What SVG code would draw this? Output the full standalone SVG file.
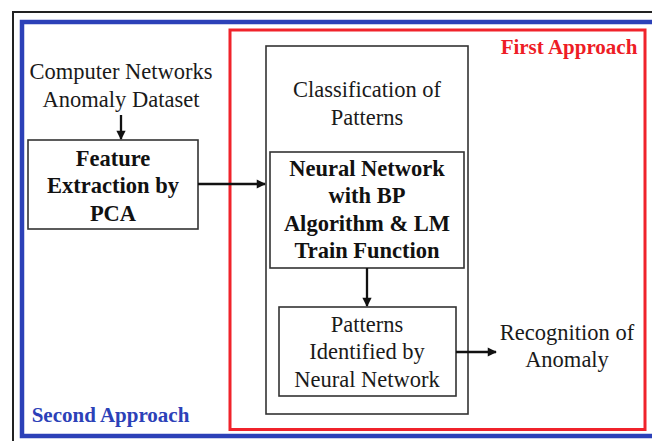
<svg xmlns="http://www.w3.org/2000/svg" width="652" height="441" viewBox="0 0 652 441">
  <style>
    .reg { font-family: "Liberation Serif", "Times New Roman", serif; font-size: 22.5px; fill: #1a1a1a; text-anchor: middle; }
    .bold { font-family: "Liberation Serif", "Times New Roman", serif; font-size: 22.5px; font-weight: bold; fill: #111; text-anchor: middle; }
    .box { fill: #fff; stroke: #333; stroke-width: 1.6; }
    .conn { stroke: #111; stroke-width: 2.3; fill: none; marker-end: url(#head); }
  </style>
  <defs>
    <marker id="head" viewBox="0 0 10 10" refX="9" refY="5" markerWidth="4.4" markerHeight="4" orient="auto" markerUnits="strokeWidth">
      <path d="M0,0 L10,5 L0,10 Z" fill="#111"/>
    </marker>
  </defs>

  <rect width="652" height="441" fill="#fff"/>

  <!-- frames -->
  <rect x="13" y="12" width="660" height="450" fill="none" stroke="#222" stroke-width="2"/>
  <rect id="second-approach" x="22" y="22" width="650" height="414" fill="none" stroke="#2c41b8" stroke-width="4.5"/>
  <rect id="first-approach" x="230" y="30" width="415" height="399.5" fill="none" stroke="#f0232b" stroke-width="3"/>
  <text x="569" y="54" font-family="Liberation Serif, Times New Roman, serif" font-size="21" font-weight="bold" fill="#ee1c25" text-anchor="middle">First Approach</text>
  <text x="110.5" y="422" font-family="Liberation Serif, Times New Roman, serif" font-size="21" font-weight="bold" fill="#2c41b8" text-anchor="middle">Second Approach</text>

  <!-- input -->
  <g id="dataset">
    <text class="reg" x="121" y="79">Computer Networks</text>
    <text class="reg" x="121" y="107">Anomaly Dataset</text>
  </g>

  <g id="feature-extraction">
    <rect class="box" x="28" y="140" width="170" height="89"/>
    <text class="bold" x="113" y="166">Feature</text>
    <text class="bold" x="113" y="193">Extraction by</text>
    <text class="bold" x="113" y="221">PCA</text>
  </g>

  <g id="classification">
    <rect class="box" x="266" y="46" width="202" height="368"/>
    <text class="reg" x="367" y="97">Classification of</text>
    <text class="reg" x="367" y="125">Patterns</text>
  </g>

  <g id="neural-network">
    <rect class="box" x="270" y="152" width="194" height="116" stroke-width="2"/>
    <text class="bold" x="367" y="176">Neural Network</text>
    <text class="bold" x="367" y="203">with BP</text>
    <text class="bold" x="367" y="231">Algorithm &amp; LM</text>
    <text class="bold" x="367" y="258">Train Function</text>
  </g>

  <g id="patterns-identified">
    <rect class="box" x="279" y="307" width="177" height="89"/>
    <text class="reg" x="367" y="332">Patterns</text>
    <text class="reg" x="367" y="359">Identified by</text>
    <text class="reg" x="367" y="387">Neural Network</text>
  </g>

  <g id="recognition">
    <text class="reg" x="567" y="340">Recognition of</text>
    <text class="reg" x="567" y="367">Anomaly</text>
  </g>

  <!-- connectors -->
  <g id="connectors">
    <line class="conn" x1="121" y1="115" x2="121" y2="139"/>
    <line class="conn" x1="198" y1="184" x2="265" y2="184"/>
    <line class="conn" x1="367" y1="268" x2="367" y2="306"/>
    <line class="conn" x1="456" y1="352" x2="496" y2="352"/>
  </g>
</svg>
